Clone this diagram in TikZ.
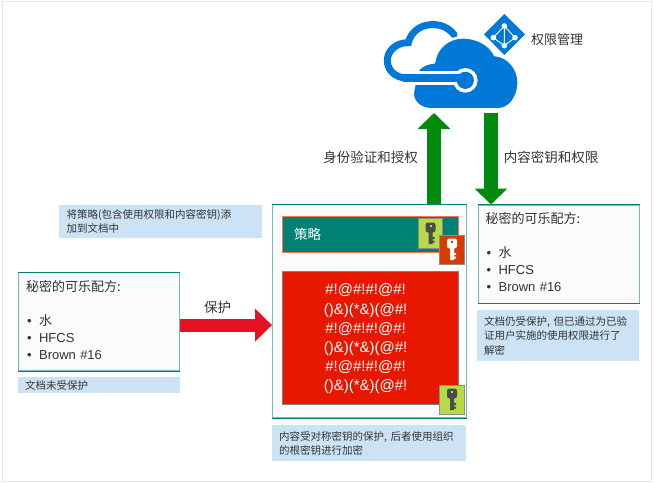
\documentclass[tikz,border=0pt]{standalone}
\usepackage{fontspec}
\setmainfont{Liberation Sans}
\newfontfamily\cjk{Noto Sans CJK SC}
\usetikzlibrary{arrows.meta}
\definecolor{azureblue}{HTML}{0078D7}
\definecolor{teal1}{HTML}{008272}
\definecolor{teal2}{HTML}{6CBFB2}
\definecolor{notefill}{HTML}{CCE3F6}
\definecolor{cardfill}{HTML}{FBFBFB}
\definecolor{greenarrow}{HTML}{008A0E}
\definecolor{redarrow}{HTML}{E81123}
\definecolor{cipherred}{HTML}{E81700}
\definecolor{keygreen}{HTML}{B5DB45}
\definecolor{keyred}{HTML}{D83B01}
\definecolor{txt}{HTML}{333333}
\newcommand{\itm}[1]{\hspace*{1pt}\makebox[12pt][l]{\textbullet}#1}
\newcommand{\recipe}{{\cjk 秘密的可乐配方:}\\[17pt]\itm{{\cjk 水}}\\\itm{HFCS}\\\itm{Brown \#16}\rule[-4pt]{0pt}{4pt}}
\tikzset{
  cardbox/.style={anchor=north west,draw=teal2,line width=1.2pt,fill=cardfill,inner xsep=7.5pt,inner ysep=0pt,
    align=left,text=txt,font=\fontsize{13}{17}\selectfont},
  cardedge/.style={draw=teal1,line width=0.9pt},
  notebox/.style={anchor=north west,fill=notefill,inner xsep=7pt,inner ysep=0pt,align=left,text=txt,
    font=\cjk\fontsize{10.5}{14.4}\selectfont},
  plainlabel/.style={text=txt,inner sep=0pt,font=\cjk\fontsize{13.5}{16}\selectfont},
  keytile/.style={anchor=north west,draw=gray!90,line width=1pt,inner sep=0pt},
  blockgreen/.style={draw=greenarrow,line width=14pt,-{Triangle[length=16pt,width=32pt]}},
  blockred/.style={draw=redarrow,line width=13pt,-{Triangle[length=17pt,width=32pt]}},
  pics/keyicon/.style 2 args={code={
    \fill[#1,rounded corners=2.5pt] (-5,-11) rectangle (5,-1);
    \fill[#1] (-2,-2) rectangle (2,10.5) (2,3.5) rectangle (4,5.5) (2,7) rectangle (4,9);
    \fill[#2] (-1,-9) rectangle (1,-7);
  }}
}
\begin{document}
\begin{tikzpicture}[x=1pt,y=-1pt]
\useasboundingbox (0,0) rectangle (654,483);
\draw[line width=1pt,draw=black!10] (2,1.5) rectangle (651,481.5);

% clouds (coordinates measured at 3x)
\begin{scope}[shift={(370,0)},x=0.33333pt,y=-0.33333pt]
  \draw[azureblue,line width=7pt,line cap=round] (252,104) .. controls (235,82) and (210,72) .. (182,74)
     .. controls (148,76) and (122,98) .. (115,128)
     .. controls (78,128) and (52,152) .. (52,182)
     .. controls (52,212) and (78,234) .. (110,234) -- (270,234);
  \fill[azureblue,draw=white,line width=2.5pt] (185,328) -- (385,328)
     .. controls (420,328) and (446,290) .. (446,248)
     .. controls (446,205) and (415,168) .. (375,165)
     .. controls (360,132) and (318,112) .. (280,112)
     .. controls (235,112) and (198,142) .. (192,187)
     .. controls (165,190) and (148,200) .. (140,216)
     -- (128,280) .. controls (128,308) and (152,328) .. (185,328) -- cycle;
  \draw[white,line width=14pt] (118,235) -- (280,235);
  \fill[white] (286,241) circle (12.3pt);
  \draw[azureblue,line width=8pt] (100,234) -- (270,234);
  \fill[azureblue] (286,241) circle (8.6pt);
  % role icon
  \fill[azureblue] (403,42) -- (465,103) -- (403,165) -- (342,103) -- cycle;
  \draw[white,line width=0.9pt] (403,78) -- (370,113) -- (403,137) -- (435,113) -- cycle (403,78) -- (403,137);
  \foreach \p in {(403,78),(370,113),(403,137),(435,113)} \fill[white] \p circle (2.8pt);
\end{scope}
\coordinate (cloudA) at (434,113);
\coordinate (cloudB) at (491,113);
\node[plainlabel,anchor=west,font=\cjk\fontsize{13}{16}\selectfont] (rms) at (531,40) {权限管理};

% boxes
\node[cardbox,minimum width=161pt,minimum height=98pt,text width=146pt] (plain) at (18,272) {\recipe};
\node[cardbox,minimum width=161pt,minimum height=98pt,text width=146pt] (unlocked) at (477.5,204.5) {\recipe};
\node[cardbox,minimum width=193.5pt,minimum height=213pt] (prot) at (272,204) {};
\foreach \b in {plain,unlocked,prot} {
  \draw[cardedge] (\b.north west) -- (\b.north east);
  \draw[cardedge] (\b.south west) -- (\b.south east);
}

\node[notebox,minimum width=203pt,minimum height=33pt,text width=188pt,inner xsep=7.5pt] (n1) at (59,205) {将策略(包含使用权限和内容密钥)添\\加到文档中};
\node[notebox,minimum width=162pt,minimum height=16pt,text width=148pt,inner xsep=5pt] (n2) at (18,377) {文档未受保护};
\node[notebox,minimum width=194pt,minimum height=36pt,text width=180pt] (n3) at (272,425) {内容受对称密钥的保护, 后者使用组织\\的根密钥进行加密};
\node[notebox,minimum width=162pt,minimum height=51pt,text width=148pt] (n4) at (477,310) {文档仍受保护, 但已通过为已验\\证用户实施的使用权限进行了\\解密};

% policy bar
\node[anchor=north west,draw=red!60!orange!70,fill=teal1,line width=1.4pt,minimum width=176pt,minimum height=36pt,
  inner xsep=12pt,inner ysep=0pt,text=white,text width=152pt,align=left,font=\cjk\fontsize{13.5}{16}\selectfont] (policy) at (281.5,215.5) {策略};
\node[keytile,fill=keygreen,minimum width=24pt,minimum height=30pt] (k1) at (418,218) {};
\pic at (k1.center) {keyicon={black!70}{keygreen}};
\node[keytile,fill=keyred,minimum width=25pt,minimum height=29pt] (k2) at (439,234.5) {};
\pic at (k2.center) {keyicon={white}{keyred}};

% cipher text
\node[anchor=north west,draw=gray,fill=cipherred,line width=1.2pt,minimum width=176pt,minimum height=133pt,inner sep=0pt] (cipher) at (281.5,270.5) {};
\node[inner sep=0pt,text=white,align=center,font=\fontsize{15}{19.2}\selectfont] (ciphertext) at ([xshift=-4.5pt,yshift=-1.5pt]cipher.center)
  {\#!@\#!\#!@\#!\\()\&)(*\&)(@\#!\\\#!@\#!\#!@\#!\\()\&)(*\&)(@\#!\\\#!@\#!\#!@\#!\\()\&)(*\&)(@\#!};
\node[keytile,fill=keygreen,minimum width=25pt,minimum height=29pt] (k3) at (439,384.5) {};
\pic at (k3.center) {keyicon={black!70}{keygreen}};

% arrows
\coordinate (redstart) at ([yshift=-3.5pt]plain.east);
\draw[blockred] (redstart) -- (redstart -| prot.west);
\draw[blockgreen] (cloudA |- prot.north) -- (cloudA);
\draw[blockgreen] (cloudB) -- (cloudB |- unlocked.north);

% labels
\node[plainlabel,anchor=center] (l1) at (217.5,307) {保护};
\node[plainlabel,anchor=center] (l2) at (370.5,157) {身份验证和授权};
\node[plainlabel,anchor=center] (l3) at (551,157) {内容密钥和权限};
\end{tikzpicture}
\end{document}
